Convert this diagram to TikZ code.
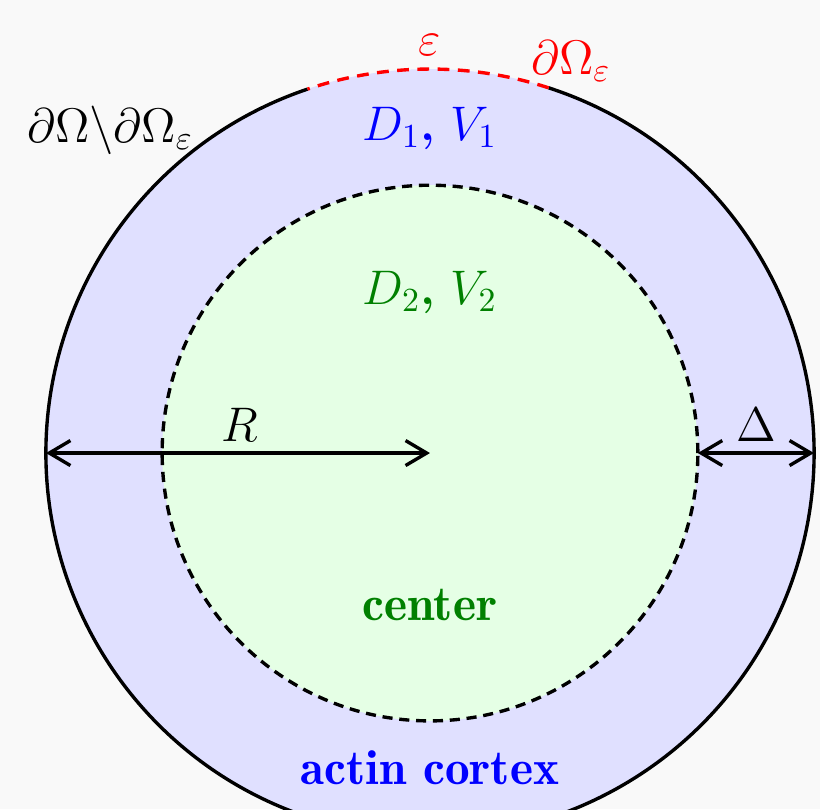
\documentclass[tikz,border=0pt]{standalone}
\usepackage{amsmath,amssymb}
\usetikzlibrary{arrows.meta}
\definecolor{bggray}{RGB}{249,249,249}
\definecolor{darkgreen}{RGB}{0,128,0}

\begin{document}
\begin{tikzpicture}[
    every node/.style={font=\fontsize{14}{17}\selectfont},
    region/.style={font=\fontsize{14.6}{17}\fontseries{b}\selectfont},
    bound/.style={line width=1pt},
    dimarrow/.style={line width=1pt, {Straight Barb[length=2.2mm,width=2.6mm]}-{Straight Barb[length=2.2mm,width=2.6mm]}}
]

% page
\fill[bggray] (-4.479,-3.708) rectangle (4.0625,4.719);
\useasboundingbox (-4.479,-3.708) rectangle (4.0625,4.719);

% regions
\fill[blue!12] (0,0) circle (4);
\fill[green!10] (0,0) circle (2.79);
\draw[bound, dashed, dash pattern=on 3pt off 2pt] (0,0) circle (2.79);
\draw[bound] (72:4) arc (72:-251.4:4);
\draw[bound, red, dash pattern=on 3.5pt off 2.5pt] (72:4) arc (72:108.6:4);

\coordinate (O) at (0,0);
\coordinate (W) at (-4,0);
\coordinate (Ein) at (2.79,0);
\coordinate (Eout) at (4,0);

% dimensions
\draw[dimarrow] (W) -- (O);
\draw[dimarrow] (Ein) -- (Eout);

% labels
\node (eps) at (0,4.25) [red] {$\varepsilon$};
\node (domeps) at (1.47,4.083) [red] {$\partial\Omega_\varepsilon$};
\node (dom) at (-3.33,3.365) {$\partial\Omega\backslash\partial\Omega_\varepsilon$};
\node (outer) at (0,3.385) [blue] {$D_1$\textbf{,} $V_1$};
\node (inner) at (0,1.677) [darkgreen] {$D_2$\textbf{,} $V_2$};
\node (radius) at (-1.979,0.292) {$R$};
\node (delta) at (3.4,0.292) {$\Delta$};
\node (center) at (0,-1.583) [darkgreen, region] {center};
\node (cortex) at (0,-3.281) [blue, region] {actin cortex};

\end{tikzpicture}
\end{document}
